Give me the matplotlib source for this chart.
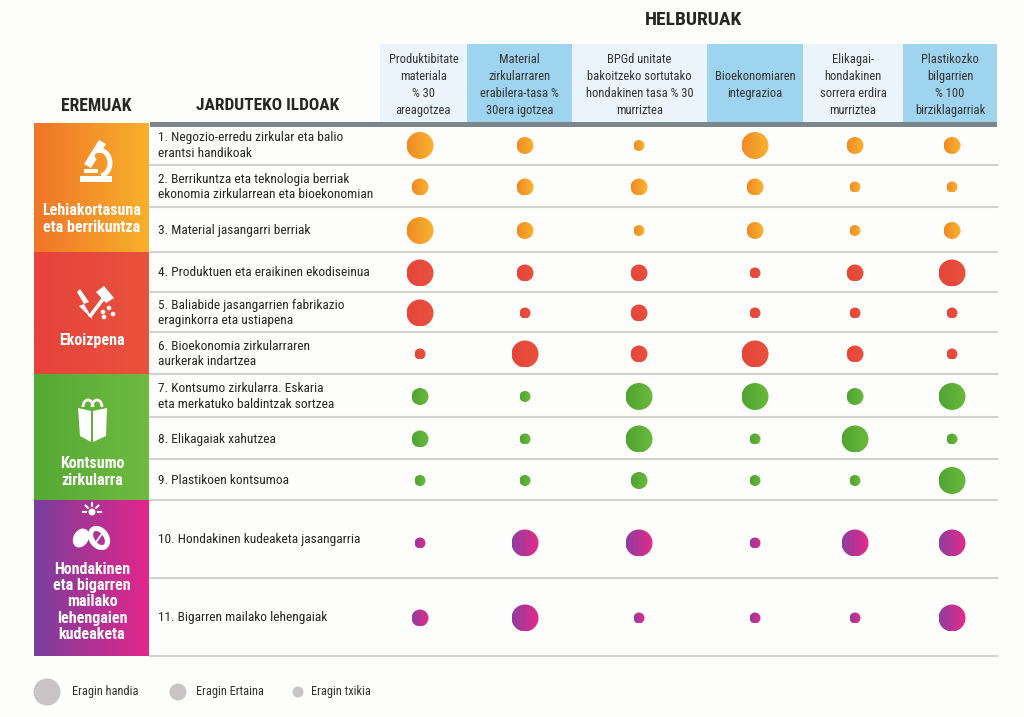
import numpy as np
import matplotlib.pyplot as plt
from matplotlib.patches import Rectangle, Circle, Polygon, Ellipse, Arc
from matplotlib.colors import LinearSegmentedColormap

# --- data -----------------------------------------------------------------
goals = ["Produktibitate\nmateriala\n% 30\nareagotzea",
         "Material\nzirkularraren\nerabilera-tasa %\n30era igotzea",
         "BPGd unitate\nbakoitzeko sortutako\nhondakinen tasa % 30\nmurriztea",
         "Bioekonomiaren\nintegrazioa",
         "Elikagai-\nhondakinen\nsorrera erdira\nmurriztea",
         "Plastikozko\nbilgarrien\n% 100\nbirziklagarriak"]

action_lines = ["1. Negozio-erredu zirkular eta balio\nerantsi handikoak",
                "2. Berrikuntza eta teknologia berriak\nekonomia zirkularrean eta bioekonomian",
                "3. Material jasangarri berriak",
                "4. Produktuen eta eraikinen ekodiseinua",
                "5. Baliabide jasangarrien fabrikazio\neraginkorra eta ustiapena",
                "6. Bioekonomia zirkularraren\naurkerak indartzea",
                "7. Kontsumo zirkularra. Eskaria\neta merkatuko baldintzak sortzea",
                "8. Elikagaiak xahutzea",
                "9. Plastikoen kontsumoa",
                "10. Hondakinen kudeaketa jasangarria",
                "11. Bigarren mailako lehengaiak"]

areas = ["Lehiakortasuna\neta berrikuntza", "Ekoizpena", "Kontsumo\nzirkularra",
         "Hondakinen\neta bigarren\nmailako\nlehengaien\nkudeaketa"]
area_rows = [3, 3, 3, 2]   # how many action lines belong to each area

# impact level per action line and goal: 3 = handia, 2 = ertaina, 1 = txikia
impact = [[3, 2, 1, 3, 2, 2],
          [2, 2, 2, 2, 1, 1],
          [3, 2, 1, 2, 1, 2],
          [3, 2, 2, 1, 2, 3],
          [3, 1, 2, 1, 1, 1],
          [1, 3, 2, 3, 2, 1],
          [2, 1, 3, 3, 2, 3],
          [2, 1, 3, 1, 3, 1],
          [1, 1, 2, 1, 1, 3],
          [1, 3, 3, 1, 3, 3],
          [2, 3, 1, 1, 1, 3]]

legend_labels = ["Eragin handia", "Eragin Ertaina", "Eragin txikia"]
legend_levels = [3, 2, 1]

# --- style / layout ---------------------------------------------------------
plt.rcParams['font.family'] = ['Roboto Condensed', 'Roboto', 'DejaVu Sans']
BG = '#fdfdfb'
TXT = '#262626'
radius = {3: 13.5, 2: 8.5, 1: 5.5}
col_edges = [380, 467, 572, 707, 803, 903, 997]
col_x = [420, 525, 639, 755, 855, 952]
row_edges = [124, 165, 207, 252, 292, 332, 374, 417, 459, 500, 578, 656]
area_grad = [('#f07528', '#f8b02c'), ('#e5433b', '#e9523d'),
             ('#55a934', '#6fba3f'), ('#7a3f9e', '#e3268a')]
bubble_grad = [('#ef8a25', '#f9b431'), ('#e4463a', '#e9513d'),
               ('#4fa531', '#6ab93d'), ('#8e3ea0', '#e52b88')]

fig = plt.figure(figsize=(10.24, 7.17), dpi=100)
fig.patch.set_facecolor(BG)
ax = fig.add_axes([0, 0, 1, 1])
ax.set_facecolor(BG)


def grad_fill(x0, x1, y0, y1, c0, c1, clip=None, z=2):
    cmap = LinearSegmentedColormap.from_list('g', [c0, c1])
    g = np.linspace(0, 1, 64).reshape(1, -1)
    im = ax.imshow(g, extent=[x0, x1, y1, y0], cmap=cmap, aspect='auto',
                   interpolation='bilinear', zorder=z)
    if clip is not None:
        im.set_clip_path(clip)
    return im


# titles
ax.text(693, 20, "HELBURUAK", ha='center', va='center', fontsize=14,
        fontweight='bold', color=TXT)
ax.text(96, 106, "EREMUAK", ha='center', va='center', fontsize=12.7,
        fontweight='bold', color=TXT)
ax.text(268, 106, "JARDUTEKO ILDOAK", ha='center', va='center', fontsize=12.5,
        fontweight='bold', color=TXT)

# goal header boxes
for j, g in enumerate(goals):
    fc = '#9fd4ee' if j % 2 else '#eaf4fa'
    ax.add_patch(Rectangle((col_edges[j], 44), col_edges[j + 1] - col_edges[j], 78,
                           facecolor=fc, edgecolor='none', zorder=1))
    ax.text((col_edges[j] + col_edges[j + 1]) / 2, 85, g, ha='center', va='center',
            fontsize=9, color='#333333', linespacing=1.38, zorder=3)

# thick bar under header and row separators
ax.add_patch(Rectangle((150, 122), 847, 5, facecolor='#7b878d', edgecolor='none', zorder=3))
for y in row_edges[1:]:
    ax.plot([150, 997], [y, y], color='#d2d2d2', lw=1.5, zorder=1)

# action line labels
for i, lab in enumerate(action_lines):
    yc = (row_edges[i] + row_edges[i + 1]) / 2 + 1
    ax.text(158, yc, lab, ha='left', va='center', fontsize=9.6, color=TXT,
            linespacing=1.25)

# area blocks
start = 0
for k, n in enumerate(area_rows):
    y0 = row_edges[start] if k else 123
    y1 = row_edges[start + n]
    grad_fill(34, 149, y0, y1, *area_grad[k], z=1)
    start += n

ax.text(92, 219, areas[0], ha='center', va='center', fontsize=11.5, fontweight='bold',
        color='white', linespacing=1.1, zorder=4)
ax.text(92, 340, areas[1], ha='center', va='center', fontsize=11.5, fontweight='bold',
        color='white', zorder=4)
ax.text(92, 472, areas[2], ha='center', va='center', fontsize=11.5, fontweight='bold',
        color='white', linespacing=1.1, zorder=4)
ax.text(92, 602, areas[3], ha='center', va='center', fontsize=11.5, fontweight='bold',
        color='white', linespacing=1.12, zorder=4)

# --- simple white icons ---
W = 'white'
# microscope
ax.add_patch(Rectangle((80, 176), 32, 6, facecolor=W, edgecolor='none', zorder=4))
ax.add_patch(Polygon([(84, 164), (99, 140), (106, 144), (91, 168)], closed=True,
                     facecolor=W, edgecolor='none', zorder=4))
ax.add_patch(Rectangle((84, 169), 14, 4, facecolor=W, edgecolor='none', zorder=4))
ax.add_patch(Arc((99, 163), 22, 26, theta1=-90, theta2=80, color=W, lw=3.5, zorder=4))
ax.add_patch(Circle((98, 156), 3.2, facecolor='#f49a2c', edgecolor='none', zorder=5))
# lightning and hammer
ax.add_patch(Polygon([(80, 289), (89, 302), (84, 304), (93, 320), (79, 306), (84, 304), (77, 292)],
                     closed=True, facecolor=W, edgecolor='none', zorder=4))
ax.add_patch(Polygon([(88, 316), (103, 296), (106, 298), (91, 318)], closed=True,
                     facecolor=W, edgecolor='none', zorder=4))
ax.add_patch(Polygon([(96, 292), (104, 286), (114, 298), (106, 303)], closed=True,
                     facecolor=W, edgecolor='none', zorder=4))
for cx, cy in [(103, 312), (109, 308), (113, 314), (104, 317)]:
    ax.add_patch(Circle((cx, cy), 2.3, facecolor=W, edgecolor='none', zorder=4))
# shopping bag
ax.add_patch(Polygon([(78, 408), (91, 411), (91, 442), (80, 436)], closed=True,
                     facecolor=W, edgecolor='none', zorder=4))
ax.add_patch(Polygon([(93, 411), (107, 408), (106, 436), (93, 442)], closed=True,
                     facecolor=W, edgecolor='none', zorder=4))
ax.add_patch(Arc((88, 407), 10, 14, theta1=180, theta2=360, color=W, lw=2, zorder=4))
ax.add_patch(Arc((97, 407), 10, 14, theta1=180, theta2=360, color=W, lw=2, zorder=4))
# sun and leaves
ax.add_patch(Circle((92, 512), 3.5, facecolor=W, edgecolor='none', zorder=4))
for a in np.linspace(0, np.pi, 5):
    ax.plot([92 + 6 * np.cos(a), 92 + 9 * np.cos(a)],
            [512 - 6 * np.sin(a), 512 - 9 * np.sin(a)], color=W, lw=1.5, zorder=4)
ax.add_patch(Ellipse((81, 538), 15, 20, angle=30, facecolor=W, edgecolor='none', zorder=4))
ax.add_patch(Ellipse((99, 538), 20, 26, angle=-35, facecolor=W, edgecolor='none', zorder=4))
ax.add_patch(Ellipse((99, 538), 9, 16, angle=-35, facecolor='#b23394', edgecolor='none', zorder=5))
ax.plot([94, 104], [545, 531], color=W, lw=1.3, zorder=6)

# --- impact bubbles ---
area_of_row = np.repeat(np.arange(len(area_rows)), area_rows)
for i, row in enumerate(impact):
    yc = (row_edges[i] + row_edges[i + 1]) / 2 + (4 if i == 9 else 1)
    c0, c1 = bubble_grad[area_of_row[i]]
    for j, lvl in enumerate(row):
        r = radius[lvl]
        circ = Circle((col_x[j], yc), r, facecolor='none', edgecolor='none',
                      transform=ax.transData)
        ax.add_patch(circ)
        grad_fill(col_x[j] - r, col_x[j] + r, yc - r, yc + r, c0, c1, clip=circ, z=3)

# legend
for (x, tx), lvl, lab in zip([(47, 72), (178, 196), (298, 311)], legend_levels, legend_labels):
    ax.add_patch(Circle((x, 692), radius[lvl], facecolor='#c9c4c6', edgecolor='none'))
    ax.text(tx, 692, lab, ha='left', va='center', fontsize=8.9, color='#333333')

ax.set_xlim(0, 1024)
ax.set_ylim(717, 0)
ax.axis('off')
fig.savefig('out.png', dpi=100, facecolor=BG)
